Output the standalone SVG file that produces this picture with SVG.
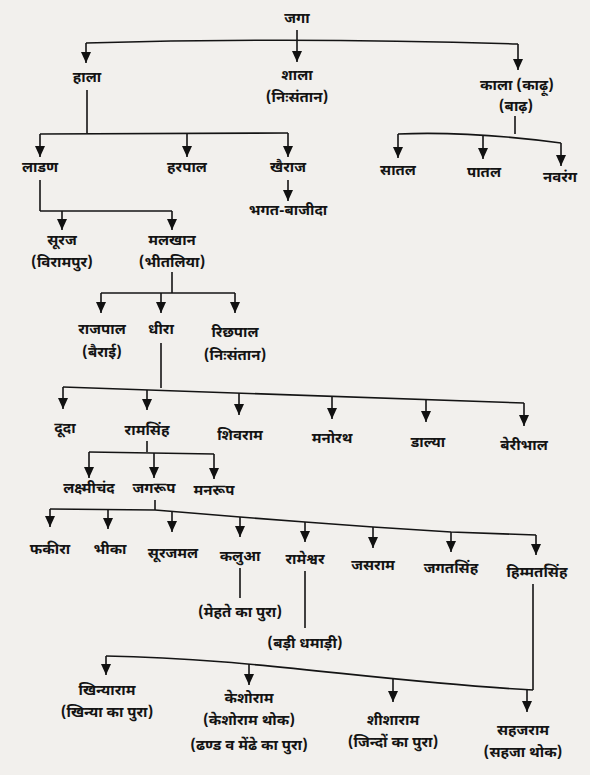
<svg xmlns="http://www.w3.org/2000/svg" width="590" height="775" viewBox="0 0 590 775">
<defs>
<marker id="ah" markerUnits="userSpaceOnUse" markerWidth="12" markerHeight="10" refX="11" refY="5" orient="auto" viewBox="0 0 12 10">
<path d="M0,0 L11,5 L0,10 Z" fill="#111"/>
</marker>
<style>
text{font-family:"Noto Sans Devanagari","Noto Sans","Lohit Devanagari","FreeSans",sans-serif;font-size:15px;fill:#141414;text-anchor:middle;font-weight:700}
.c path,.c line,.c polyline{stroke:#141414;stroke-width:1.6;fill:none}
.a{marker-end:url(#ah)}
</style>
</defs>
<rect width="590" height="775" fill="#f2f0ed"/>
<g class="c" id="connectors">
<line x1="297" y1="30" x2="297" y2="62" class="a"/>
<path d="M86,43 Q300,37 518,44"/>
<line x1="86" y1="43" x2="86" y2="63" class="a"/>
<line x1="518" y1="44" x2="518" y2="70" class="a"/>
<line x1="87" y1="90" x2="87" y2="133"/>
<line x1="40" y1="134" x2="288" y2="133"/>
<line x1="40" y1="134" x2="40" y2="157" class="a"/>
<line x1="187" y1="133" x2="187" y2="157" class="a"/>
<line x1="288" y1="133" x2="288" y2="157" class="a"/>
<line x1="288" y1="180" x2="288" y2="201" class="a"/>
<line x1="515" y1="116" x2="515" y2="134"/>
<path d="M398,134 Q470,131 561,143"/>
<line x1="398" y1="134" x2="398" y2="158" class="a"/>
<line x1="483" y1="135" x2="483" y2="159" class="a"/>
<line x1="561" y1="143" x2="561" y2="166" class="a"/>
<line x1="40" y1="180" x2="40" y2="211"/>
<line x1="40" y1="211" x2="172" y2="211"/>
<line x1="62" y1="211" x2="62" y2="230" class="a"/>
<line x1="172" y1="211" x2="172" y2="230" class="a"/>
<line x1="172" y1="272" x2="172" y2="293"/>
<line x1="101" y1="293" x2="235" y2="293"/>
<line x1="101" y1="293" x2="101" y2="313" class="a"/>
<line x1="161" y1="293" x2="161" y2="313" class="a"/>
<line x1="235" y1="293" x2="235" y2="313" class="a"/>
<line x1="161" y1="343" x2="161" y2="388"/>
<line x1="63" y1="387" x2="524" y2="403"/>
<line x1="63" y1="387" x2="63" y2="409" class="a"/>
<line x1="147" y1="390" x2="147" y2="410" class="a"/>
<line x1="239" y1="393" x2="239" y2="415" class="a"/>
<line x1="332" y1="396" x2="332" y2="419" class="a"/>
<line x1="426" y1="400" x2="426" y2="422" class="a"/>
<line x1="524" y1="403" x2="524" y2="426" class="a"/>
<line x1="147" y1="441" x2="147" y2="452"/>
<line x1="89" y1="452" x2="214" y2="454"/>
<line x1="89" y1="452" x2="89" y2="478" class="a"/>
<line x1="154" y1="453" x2="154" y2="478" class="a"/>
<line x1="214" y1="454" x2="214" y2="479" class="a"/>
<line x1="155" y1="500" x2="155" y2="510"/>
<polyline points="50,509 155,510 240,517 305,522 373,527 451,532 536,535"/>
<line x1="50" y1="509" x2="50" y2="527" class="a"/>
<line x1="108" y1="509" x2="108" y2="529" class="a"/>
<line x1="172" y1="512" x2="172" y2="532" class="a"/>
<line x1="240" y1="517" x2="240" y2="537" class="a"/>
<line x1="305" y1="522" x2="305" y2="542" class="a"/>
<line x1="373" y1="527" x2="373" y2="548" class="a"/>
<line x1="451" y1="532" x2="451" y2="552" class="a"/>
<line x1="536" y1="535" x2="536" y2="555" class="a"/>
<line x1="240" y1="568" x2="240" y2="598"/>
<line x1="305" y1="571" x2="305" y2="628"/>
<line x1="533" y1="584" x2="533" y2="690"/>
<path d="M106,656 C250,658 380,682 533,690"/>
<line x1="106" y1="656" x2="106" y2="675" class="a"/>
<line x1="249" y1="664" x2="249" y2="685" class="a"/>
<line x1="393" y1="679" x2="393" y2="702" class="a"/>
<line x1="527" y1="690" x2="527" y2="712" class="a"/>
</g>
<g id="jaga"><text x="297" y="23">जगा</text></g>
<g id="hala"><text x="87" y="82">हाला</text></g>
<g id="shala"><text x="297" y="80">शाला</text><text x="297" y="102">(निःसंतान)</text></g>
<g id="kala"><text x="517" y="90">काला (काढ़ू)</text><text x="516" y="111">(बाढ़)</text></g>
<g id="ladan"><text x="40" y="172">लाडण</text></g>
<g id="harpal"><text x="187" y="172">हरपाल</text></g>
<g id="khairaj"><text x="288" y="172">खैराज</text></g>
<g id="bhagat"><text x="288" y="215">भगत-बाजीदा</text></g>
<g id="satal"><text x="398" y="175">सातल</text></g>
<g id="patal"><text x="484" y="177">पातल</text></g>
<g id="navrang"><text x="560" y="182">नवरंग</text></g>
<g id="suraj"><text x="62" y="245">सूरज</text><text x="62" y="267">(विरामपुर)</text></g>
<g id="malkhan"><text x="172" y="245">मलखान</text><text x="172" y="267">(भीतलिया)</text></g>
<g id="rajpal"><text x="102" y="334">राजपाल</text><text x="102" y="357">(बैराई)</text></g>
<g id="dhira"><text x="161" y="334">धीरा</text></g>
<g id="richpal"><text x="235" y="337">रिछपाल</text><text x="235" y="360">(निःसंतान)</text></g>
<g id="duda"><text x="65" y="433">दूदा</text></g>
<g id="ramsingh"><text x="147" y="435">रामसिंह</text></g>
<g id="shivram"><text x="240" y="440">शिवराम</text></g>
<g id="manorath"><text x="332" y="443">मनोरथ</text></g>
<g id="dalya"><text x="428" y="447">डाल्या</text></g>
<g id="beribhal"><text x="524" y="450">बेरीभाल</text></g>
<g id="laxmichand"><text x="89" y="493">लक्ष्मीचंद</text></g>
<g id="jagroop"><text x="154" y="493">जगरूप</text></g>
<g id="manroop"><text x="214" y="495">मनरूप</text></g>
<g id="fakira"><text x="50" y="554">फकीरा</text></g>
<g id="bhika"><text x="110" y="554">भीका</text></g>
<g id="surajmal"><text x="173" y="558">सूरजमल</text></g>
<g id="kalua"><text x="240" y="561">कलुआ</text><text x="240" y="617">(मेहते का पुरा)</text></g>
<g id="rameshwar"><text x="305" y="564">रामेश्वर</text><text x="305" y="648">(बड़ी धमाड़ी)</text></g>
<g id="jasram"><text x="373" y="570">जसराम</text></g>
<g id="jagatsingh"><text x="451" y="573">जगतसिंह</text></g>
<g id="himmatsingh"><text x="537" y="577">हिम्मतसिंह</text></g>
<g id="khinyaram"><text x="107" y="695">खिन्याराम</text><text x="107" y="717">(खिन्या का पुरा)</text></g>
<g id="keshoram"><text x="249" y="703">केशोराम</text><text x="249" y="725">(केशोराम थोक)</text><text x="249" y="750">(ढण्ड व मेंढे का पुरा)</text></g>
<g id="shisharam"><text x="393" y="725">शीशाराम</text><text x="393" y="747">(जिन्दों का पुरा)</text></g>
<g id="sahajram"><text x="523" y="735">सहजराम</text><text x="523" y="757">(सहजा थोक)</text></g>
</svg>
